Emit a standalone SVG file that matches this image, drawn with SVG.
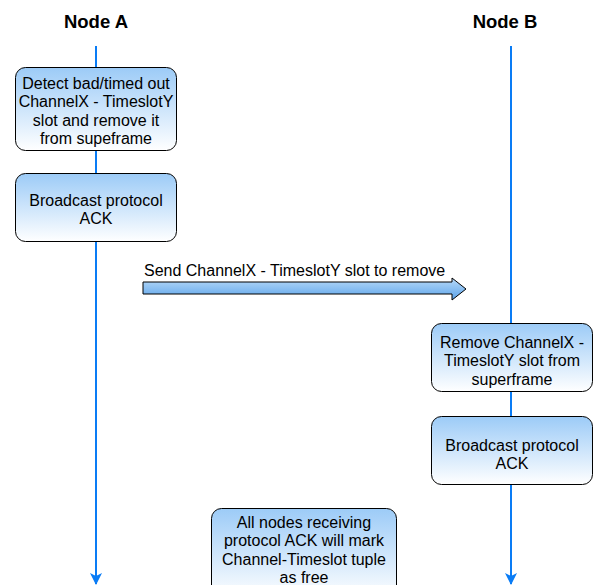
<svg xmlns="http://www.w3.org/2000/svg" width="594" height="585" viewBox="0 0 594 585">
  <defs>
    <linearGradient id="boxFill" x1="0" y1="0" x2="0" y2="1">
      <stop offset="0" stop-color="#9ccbf7"/>
      <stop offset="1" stop-color="#ffffff"/>
    </linearGradient>
    <linearGradient id="arrowFill" x1="0" y1="0" x2="0" y2="1">
      <stop offset="0" stop-color="#b8daf8"/>
      <stop offset="1" stop-color="#5aa2ea"/>
    </linearGradient>
    <marker id="lifeHead" viewBox="0 0 12 12" refX="11" refY="6" markerWidth="12" markerHeight="12" markerUnits="userSpaceOnUse" orient="auto">
      <path d="M0,0 L12,6 L0,12 L3,6 Z" fill="#0a7cf5"/>
    </marker>
  </defs>
  <style>
    .title { font-family: "Liberation Sans", Arial, sans-serif; font-size: 18.5px; font-weight: bold; fill: #000; text-anchor: middle; }
    .label { font-family: "Liberation Sans", Arial, sans-serif; font-size: 16px; fill: #000; text-anchor: middle; }
    .msg { font-family: "Liberation Sans", Arial, sans-serif; font-size: 16px; fill: #000; }
    .box { fill: url(#boxFill); stroke: #000; stroke-width: 1; }
    .life { stroke: #0a7cf5; stroke-width: 2; fill: none; }
  </style>

  <rect width="594" height="585" fill="#ffffff"/>

  <!-- lifelines and message arrow -->
  <g id="connectors">
    <line class="life" x1="96" y1="46" x2="96" y2="584" marker-end="url(#lifeHead)"/>
    <line class="life" x1="511" y1="46" x2="511" y2="584" marker-end="url(#lifeHead)"/>
    <g id="message">
      <path d="M143,282 L452,282 L452,278 L466,289 L452,300 L452,294 L143,294 Z" fill="url(#arrowFill)" stroke="#000" stroke-width="1"/>
      <text class="msg" x="144" y="276">Send ChannelX - TimeslotY slot to remove</text>
    </g>
  </g>

  <g id="nodeA-title">
    <text class="title" x="96" y="28">Node A</text>
  </g>
  <g id="nodeB-title">
    <text class="title" x="505" y="28">Node B</text>
  </g>

  <g id="detect">
    <rect class="box" x="15.5" y="67.5" width="161" height="83" rx="10"/>
    <text class="label" x="96" y="88.5">Detect bad/timed out</text>
    <text class="label" x="96" y="107">ChannelX - TimeslotY</text>
    <text class="label" x="96" y="125.5">slot and remove it</text>
    <text class="label" x="96" y="144">from supeframe</text>
  </g>

  <g id="broadcastA">
    <rect class="box" x="15.5" y="173.5" width="161" height="68" rx="10"/>
    <text class="label" x="96" y="205.5">Broadcast protocol</text>
    <text class="label" x="96" y="224">ACK</text>
  </g>

  <g id="removeB">
    <rect class="box" x="431.5" y="323.5" width="161" height="68" rx="10"/>
    <text class="label" x="512" y="347.5">Remove ChannelX -</text>
    <text class="label" x="512" y="366">TimeslotY slot from</text>
    <text class="label" x="512" y="384.5">superframe</text>
  </g>

  <g id="broadcastB">
    <rect class="box" x="431.5" y="416.5" width="161" height="68" rx="10"/>
    <text class="label" x="512" y="450.5">Broadcast protocol</text>
    <text class="label" x="512" y="469">ACK</text>
  </g>

  <g id="note">
    <rect class="box" x="211.5" y="508.5" width="185" height="90" rx="10"/>
    <text class="label" x="304" y="527.5">All nodes receiving</text>
    <text class="label" x="304" y="546">protocol ACK will mark</text>
    <text class="label" x="304" y="564.5">Channel-Timeslot tuple</text>
    <text class="label" x="304" y="583">as free</text>
  </g>
</svg>
